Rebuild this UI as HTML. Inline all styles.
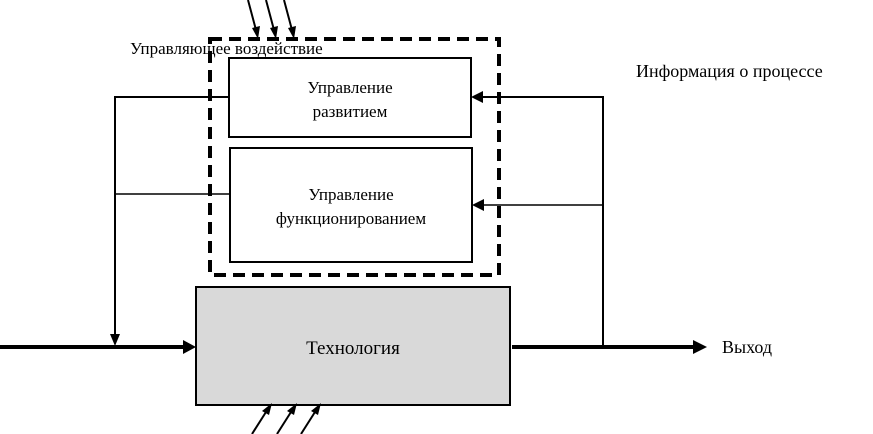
<!DOCTYPE html>
<html><head><meta charset="utf-8"><style>
html,body{margin:0;padding:0;background:#fff;}
svg{display:block;}
text{font-family:"Liberation Serif",serif;fill:#000;}
</style></head><body>
<svg width="873" height="434" viewBox="0 0 873 434" xmlns="http://www.w3.org/2000/svg">
<!-- dashed box -->
<rect x="210" y="39" width="289" height="236" fill="none" stroke="#000" stroke-width="4" stroke-dasharray="12,7"/>
<!-- boxes -->
<rect x="229" y="58" width="242" height="79" fill="#fff" stroke="#000" stroke-width="2"/>
<rect x="230" y="148" width="242" height="114" fill="#fff" stroke="#000" stroke-width="2"/>
<rect x="196" y="287" width="314" height="118" fill="#d9d9d9" stroke="#000" stroke-width="2"/>
<text x="350" y="93" font-size="17" text-anchor="middle">Управление</text>
<text x="350" y="117" font-size="17" text-anchor="middle">развитием</text>
<text x="351" y="200" font-size="17" text-anchor="middle">Управление</text>
<text x="351" y="224" font-size="17" text-anchor="middle">функционированием</text>
<text x="353" y="354" font-size="19" text-anchor="middle">Технология</text>
<text x="130" y="54" font-size="17">Управляющее воздействие</text>
<text x="636" y="77" font-size="18">Информация о процессе</text>
<text x="722" y="353" font-size="18">Выход</text>
<!-- left feedback lines -->
<polyline points="229,97 115,97 115,338" fill="none" stroke="#000" stroke-width="2"/>
<line x1="115" y1="194" x2="230" y2="194" stroke="#000" stroke-width="1.5"/>
<polygon points="110,334 120,334 115,346" fill="#000"/>
<!-- input line -->
<line x1="0" y1="347" x2="186" y2="347" stroke="#000" stroke-width="4"/>
<polygon points="183,340 196,347 183,354" fill="#000"/>
<!-- output line -->
<line x1="512" y1="347" x2="696" y2="347" stroke="#000" stroke-width="4"/>
<polygon points="693,340 707,347 693,354" fill="#000"/>
<!-- right feedback -->
<polyline points="603,347 603,97 480,97" fill="none" stroke="#000" stroke-width="2"/>
<line x1="603" y1="205" x2="482" y2="205" stroke="#000" stroke-width="1.5"/>
<polygon points="471,97 483,91 483,103" fill="#000"/>
<polygon points="472,205 484,199 484,211" fill="#000"/>
<!-- top arrows -->
<g stroke="#000" stroke-width="2">
<line x1="248" y1="0" x2="256" y2="30"/>
<line x1="266" y1="0" x2="274" y2="30"/>
<line x1="284" y1="0" x2="292" y2="30"/>
</g>
<g fill="#000">
<polygon points="252,28 260,26 258,39"/>
<polygon points="270,28 278,26 276,39"/>
<polygon points="288,28 296,26 294,39"/>
</g>
<!-- bottom arrows -->
<g stroke="#000" stroke-width="2">
<line x1="252" y1="434" x2="266" y2="412"/>
<line x1="277" y1="434" x2="291" y2="412"/>
<line x1="301" y1="434" x2="315" y2="412"/>
</g>
<g fill="#000">
<polygon points="262,411 269,415 272,403"/>
<polygon points="287,411 294,415 297,403"/>
<polygon points="311,411 318,415 321,403"/>
</g>
</svg>
</body></html>
